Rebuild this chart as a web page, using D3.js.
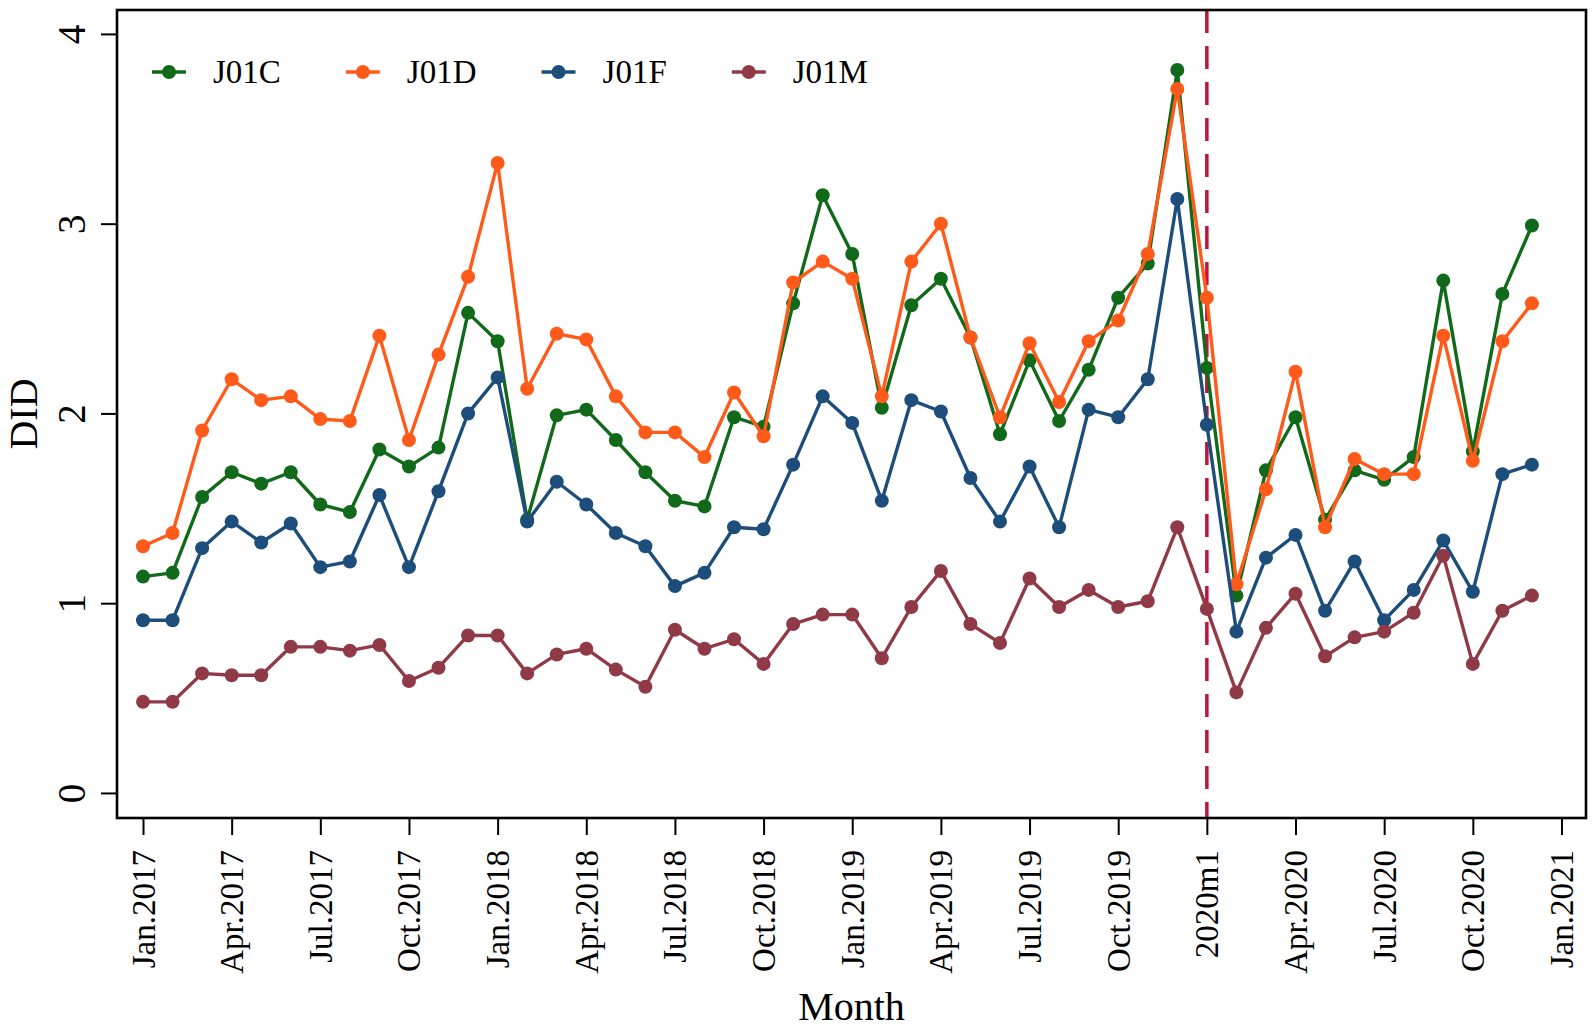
<!DOCTYPE html>
<html lang="en">
<head>
    <meta charset="UTF-8">
    <title>DID by month</title>
    <script src="https://cdnjs.cloudflare.com/ajax/libs/d3/7.8.5/d3.min.js"></script>
    <style>
        * {
            margin: 0;
            padding: 0;
        }
        body {
            background-color: #fff;
        }
        svg text {
            font-family: "Liberation Serif", "Times New Roman", serif;
            fill: #000;
        }
        .series-line {
            fill: none;
            stroke-width: 3.4;
            stroke-linejoin: round;
        }
    </style>
</head>
<body>
    <svg id="chart" width="1595" height="1029"></svg>

    <script>
        // Monthly values, Jan 2017 .. Dec 2020
        const J01C = [1.14, 1.16, 1.56, 1.69, 1.63, 1.69, 1.52, 1.48, 1.81, 1.72, 1.82, 2.53, 2.38,
            1.44, 1.99, 2.02, 1.86, 1.69, 1.54, 1.51, 1.98, 1.93, 2.58, 3.15, 2.84, 2.03,
            2.57, 2.71, 2.40, 1.89, 2.28, 1.96, 2.23, 2.61, 2.79, 3.81, 2.24, 1.04, 1.70,
            1.98, 1.44, 1.70, 1.65, 1.77, 2.70, 1.80, 2.63, 2.99];
        const J01D = [1.30, 1.37, 1.91, 2.18, 2.07, 2.09, 1.97, 1.96, 2.41, 1.86, 2.31, 2.72, 3.32,
            2.13, 2.42, 2.39, 2.09, 1.90, 1.90, 1.77, 2.11, 1.88, 2.69, 2.80, 2.71, 2.09,
            2.80, 3.00, 2.40, 1.98, 2.37, 2.06, 2.38, 2.49, 2.84, 3.71, 2.61, 1.10, 1.60,
            2.22, 1.40, 1.76, 1.68, 1.68, 2.41, 1.75, 2.38, 2.58];
        const J01F = [0.91, 0.91, 1.29, 1.43, 1.32, 1.42, 1.19, 1.22, 1.57, 1.19, 1.59, 2.00, 2.19,
            1.43, 1.64, 1.52, 1.37, 1.30, 1.09, 1.16, 1.40, 1.39, 1.73, 2.09, 1.95, 1.54,
            2.07, 2.01, 1.66, 1.43, 1.72, 1.40, 2.02, 1.98, 2.18, 3.13, 1.94, 0.85, 1.24,
            1.36, 0.96, 1.22, 0.91, 1.07, 1.33, 1.06, 1.68, 1.73];
        const J01M = [0.48, 0.48, 0.63, 0.62, 0.62, 0.77, 0.77, 0.75, 0.78, 0.59, 0.66, 0.83, 0.83,
            0.63, 0.73, 0.76, 0.65, 0.56, 0.86, 0.76, 0.81, 0.68, 0.89, 0.94, 0.94, 0.71,
            0.98, 1.17, 0.89, 0.79, 1.13, 0.98, 1.07, 0.98, 1.01, 1.40, 0.97, 0.53, 0.87,
            1.05, 0.72, 0.82, 0.85, 0.95, 1.25, 0.68, 0.96, 1.04];

        const seriesNames = ['J01C', 'J01D', 'J01F', 'J01M'];
        const seriesColors = ['#11691a', '#ff5a1a', '#1d4d7a', '#8f3a46'];

        const xTickLabels = ['Jan.2017', 'Apr.2017', 'Jul.2017', 'Oct.2017',
            'Jan.2018', 'Apr.2018', 'Jul.2018', 'Oct.2018',
            'Jan.2019', 'Apr.2019', 'Jul.2019', 'Oct.2019',
            '2020m1', 'Apr.2020', 'Jul.2020', 'Oct.2020', 'Jan.2021'];
        const yTicks = [0, 1, 2, 3, 4];
        const policyMonth = 36; // 2020m1

        const allSeries = [J01C, J01D, J01F, J01M];
        const months = d3.range(J01C.length);
        const xTickValues = xTickLabels.map((d, i) => i * 3);

        const width = 1595, height = 1029;
        const margin = {top: 10, right: 9, bottom: 211, left: 117};
        const innerW = width - margin.left - margin.right;
        const innerH = height - margin.top - margin.bottom;

        const svg = d3.select('#chart');
        const g = svg.append('g')
            .attr('transform', `translate(${margin.left},${margin.top})`);

        const x = d3.scaleLinear().domain([-0.88, 48.83]).range([0, innerW]);
        const y = d3.scaleLinear().domain([-0.132, 4.126]).range([innerH, 0]);

        // y axis
        const yAxis = g.append('g')
            .call(d3.axisLeft(y).tickValues(yTicks).tickSize(16).tickSizeOuter(0).tickFormat(d3.format('d')));
        yAxis.select('.domain').remove();
        yAxis.selectAll('line').attr('stroke', '#000').attr('stroke-width', 2);
        yAxis.selectAll('text')
            .attr('x', null).attr('dy', null)
            .attr('text-anchor', 'middle')
            .attr('font-size', 39)
            .attr('transform', 'translate(-32,0) rotate(-90)');

        // x axis
        const xAxis = g.append('g')
            .attr('transform', `translate(0,${innerH})`)
            .call(d3.axisBottom(x).tickValues(xTickValues).tickSize(17).tickSizeOuter(0)
                .tickFormat((d, i) => xTickLabels[i]));
        xAxis.select('.domain').remove();
        xAxis.selectAll('line').attr('stroke', '#000').attr('stroke-width', 2);
        xAxis.selectAll('text')
            .attr('y', null).attr('dy', null)
            .attr('text-anchor', 'end')
            .attr('font-size', 33)
            .attr('transform', 'translate(11,32) rotate(-90)');

        // axis titles
        svg.append('text')
            .attr('transform', `translate(37,${margin.top + innerH / 2}) rotate(-90)`)
            .attr('text-anchor', 'middle')
            .attr('font-size', 40)
            .text('DID');
        svg.append('text')
            .attr('x', margin.left + innerW / 2)
            .attr('y', 1020)
            .attr('text-anchor', 'middle')
            .attr('font-size', 40)
            .text('Month');

        // 2020m1 reference line
        g.append('line')
            .attr('x1', x(policyMonth)).attr('x2', x(policyMonth))
            .attr('y1', 0).attr('y2', innerH)
            .attr('stroke', '#c0143c')
            .attr('stroke-width', 3.5)
            .attr('stroke-dasharray', '23,13');

        // series
        const line = d3.line()
            .x((d, i) => x(months[i]))
            .y(d => y(d));

        allSeries.forEach((values, k) => {
            const sg = g.append('g');
            sg.append('path')
                .datum(values)
                .attr('class', 'series-line')
                .attr('stroke', seriesColors[k])
                .attr('d', line);
            sg.selectAll('circle')
                .data(values)
                .enter().append('circle')
                .attr('cx', (d, i) => x(months[i]))
                .attr('cy', d => y(d))
                .attr('r', 7)
                .attr('fill', seriesColors[k]);
        });

        // plot border
        g.append('rect')
            .attr('width', innerW)
            .attr('height', innerH)
            .attr('fill', 'none')
            .attr('stroke', '#000')
            .attr('stroke-width', 2.6);

        // legend
        const legend = svg.append('g').attr('transform', 'translate(169,72)');
        let lx = 0;
        seriesNames.forEach((name, k) => {
            const item = legend.append('g').attr('transform', `translate(${lx},0)`);
            item.append('line')
                .attr('x1', -17).attr('x2', 17)
                .attr('stroke', seriesColors[k])
                .attr('stroke-width', 3.4);
            item.append('circle')
                .attr('r', 7)
                .attr('fill', seriesColors[k]);
            const t = item.append('text')
                .attr('x', 44)
                .attr('y', 11)
                .attr('font-size', 33)
                .text(name);
            lx += 44 + t.node().getComputedTextLength() + 82;
        });
    </script>
</body>
</html>
